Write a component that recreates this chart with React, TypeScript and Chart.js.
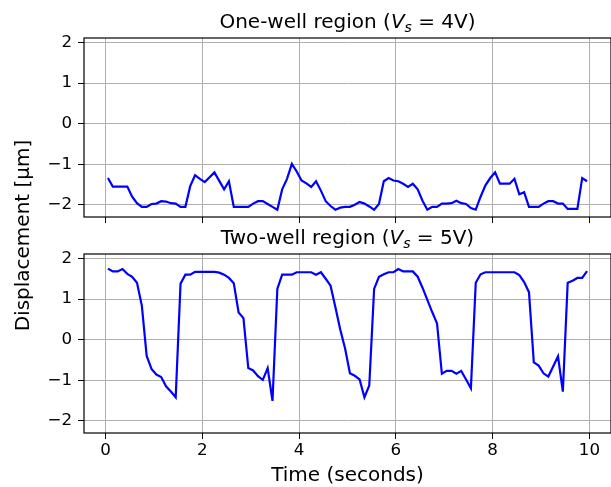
import React, { useEffect, useRef } from 'react';
import { Chart, registerables } from 'chart.js';

Chart.register(...registerables);

// ---- data ----
const TIME = [
  0.05, 0.15, 0.25, 0.35, 0.45, 0.55, 0.65, 0.75, 0.85, 0.95,
  1.05, 1.15, 1.25, 1.35, 1.45, 1.55, 1.65, 1.75, 1.85, 1.95,
  2.05, 2.15, 2.25, 2.35, 2.45, 2.55, 2.65, 2.75, 2.85, 2.95,
  3.05, 3.15, 3.25, 3.35, 3.45, 3.55, 3.65, 3.75, 3.85, 3.95,
  4.05, 4.15, 4.25, 4.35, 4.45, 4.55, 4.65, 4.75, 4.85, 4.95,
  5.05, 5.15, 5.25, 5.35, 5.45, 5.55, 5.65, 5.75, 5.85, 5.95,
  6.05, 6.15, 6.25, 6.35, 6.45, 6.55, 6.65, 6.75, 6.85, 6.95,
  7.05, 7.15, 7.25, 7.35, 7.45, 7.55, 7.65, 7.75, 7.85, 7.95,
  8.05, 8.15, 8.25, 8.35, 8.45, 8.55, 8.65, 8.75, 8.85, 8.95,
  9.05, 9.15, 9.25, 9.35, 9.45, 9.55, 9.65, 9.75, 9.85, 9.95,
];

const ONE_WELL = [
  -1.34, -1.55, -1.55, -1.55, -1.55, -1.8, -1.96, -2.05, -2.05, -1.98,
  -1.97, -1.91, -1.92, -1.96, -1.97, -2.05, -2.05, -1.54, -1.27, -1.36,
  -1.44, -1.32, -1.2, -1.41, -1.62, -1.42, -2.05, -2.05, -2.05, -2.05,
  -1.97, -1.91, -1.91, -1.98, -2.05, -2.12, -1.62, -1.36, -0.99, -1.18,
  -1.4, -1.47, -1.56, -1.42, -1.65, -1.91, -2.03, -2.12, -2.07, -2.05,
  -2.05, -2.0, -1.93, -1.97, -2.04, -2.12, -1.98, -1.42, -1.34, -1.4,
  -1.42, -1.48, -1.56, -1.48, -1.62, -1.9, -2.12, -2.05, -2.05, -1.97,
  -1.97, -1.96, -1.9, -1.96, -1.98, -2.08, -2.12, -1.8, -1.52, -1.34,
  -1.2, -1.48, -1.48, -1.48, -1.36, -1.74, -1.69, -2.05, -2.05, -2.05,
  -1.97, -1.91, -1.91, -1.97, -1.97, -2.1, -2.1, -2.1, -1.34, -1.42,
];

const TWO_WELL = [
  1.75, 1.68, 1.68, 1.74, 1.62, 1.55, 1.4, 0.84, -0.4, -0.72,
  -0.86, -0.92, -1.15, -1.28, -1.42, 1.38, 1.6, 1.6, 1.67, 1.67,
  1.67, 1.67, 1.67, 1.65, 1.6, 1.52, 1.39, 0.67, 0.53, -0.7,
  -0.76, -0.9, -0.99, -0.7, -1.51, 1.25, 1.6, 1.6, 1.6, 1.66,
  1.66, 1.66, 1.66, 1.6, 1.66, 1.5, 1.33, 0.8, 0.25, -0.22,
  -0.83, -0.89, -0.98, -1.42, -1.13, 1.25, 1.55, 1.61, 1.66, 1.66,
  1.74, 1.68, 1.68, 1.68, 1.55, 1.28, 0.98, 0.68, 0.4, -0.84,
  -0.77, -0.77, -0.84, -0.77, -0.98, -1.2, 1.4, 1.61, 1.66, 1.66,
  1.66, 1.66, 1.66, 1.66, 1.66, 1.59, 1.42, 1.17, -0.56, -0.64,
  -0.83, -0.91, -0.66, -0.41, -1.28, 1.4, 1.45, 1.52, 1.52, 1.69,
];

const X_TICKS = [0, 2, 4, 6, 8, 10];
const Y_TICKS = [-2, -1, 0, 1, 2];
const X_MIN = -0.445;
const X_MAX = 10.445;
const Y_MIN = -2.3;
const Y_MAX = 2.11;

const TOP_TITLE = ['One-well region (', 'V', 's', ' = 4V)'];
const BOTTOM_TITLE = ['Two-well region (', 'V', 's', ' = 5V)'];
const X_LABEL = 'Time (seconds)';
const Y_LABEL = 'Displacement [\u03bcm]';

// ---- layout / style ----
const W = 611;
const H = 487;
const AXIS_LEFT = 84;
const FAMILY = "'DejaVu Sans', sans-serif";
const TICK_SIZE = 16.7;
const LABEL_SIZE = 20;

const fmt = (v: number) => (v < 0 ? '\u2212' + Math.abs(v) : String(v));

function framePlugin(title: string[], withAxisLabels: boolean) {
  return {
    id: 'frameAndText',
    afterDraw(chart: any) {
      const { ctx, chartArea: a } = chart;
      ctx.save();
      ctx.strokeStyle = '#000';
      ctx.lineWidth = 1.2;
      ctx.strokeRect(a.left, a.top, a.right - a.left, a.bottom - a.top);

      ctx.fillStyle = '#000';
      ctx.textAlign = 'left';
      ctx.textBaseline = 'alphabetic';
      const big = `${LABEL_SIZE}px ${FAMILY}`;
      const ital = `italic ${LABEL_SIZE}px ${FAMILY}`;
      const sub = `italic ${LABEL_SIZE * 0.7}px ${FAMILY}`;
      const parts: [string, string, number][] = [
        [title[0], big, 0],
        [title[1], ital, 0],
        [title[2], sub, 4],
        [title[3], big, 0],
      ];
      let total = 0;
      const widths = parts.map(([t, f]) => {
        ctx.font = f;
        const w = ctx.measureText(t).width;
        total += w;
        return w;
      });
      let x = (a.left + a.right) / 2 - total / 2;
      const baseY = a.top - 10;
      parts.forEach(([t, f, dy], i) => {
        ctx.font = f;
        ctx.fillText(t, x, baseY + dy);
        x += widths[i];
      });

      if (withAxisLabels) {
        ctx.font = big;
        ctx.textAlign = 'center';
        ctx.fillText(X_LABEL, (a.left + a.right) / 2, 481);
        ctx.save();
        ctx.translate(29, (38 + a.bottom) / 2);
        ctx.rotate(-Math.PI / 2);
        ctx.fillText(Y_LABEL, 0, 0);
        ctx.restore();
      }
      ctx.restore();
    },
  };
}

function makeConfig(values: number[], title: string[], bottom: boolean) {
  const areaTop = bottom ? 254 : 38;
  const areaBottom = bottom ? 433 : 217;
  const xAxisH = bottom ? H - areaBottom : 6;
  const tickFont = { family: FAMILY, size: TICK_SIZE };
  return {
    type: 'line',
    data: {
      datasets: [
        {
          data: values.map((v, i) => ({ x: TIME[i], y: v })),
          borderColor: '#0000ff',
          borderWidth: 2.2,
          pointRadius: 0,
          tension: 0,
          fill: false,
        },
      ],
    },
    options: {
      animation: false,
      responsive: false,
      events: [],
      layout: {
        padding: { top: areaTop, left: 0, right: 0, bottom: H - areaBottom - xAxisH },
      },
      plugins: {
        legend: { display: false },
        title: { display: false },
        tooltip: { enabled: false },
      },
      scales: {
        x: {
          type: 'linear',
          min: X_MIN,
          max: X_MAX,
          afterBuildTicks: (s: any) => {
            s.ticks = X_TICKS.map((v) => ({ value: v }));
          },
          afterFit: (s: any) => {
            s.height = xAxisH;
          },
          grid: {
            color: '#b0b0b0',
            lineWidth: 1,
            tickColor: '#000',
            tickLength: 6,
            tickWidth: 1,
            drawTicks: true,
          },
          border: { display: false },
          ticks: {
            display: bottom,
            font: tickFont,
            color: '#000',
            padding: 2,
            maxRotation: 0,
            autoSkip: false,
            callback: (v: number) => fmt(v),
          },
        },
        y: {
          type: 'linear',
          min: Y_MIN,
          max: Y_MAX,
          afterBuildTicks: (s: any) => {
            s.ticks = Y_TICKS.map((v) => ({ value: v }));
          },
          afterFit: (s: any) => {
            s.width = AXIS_LEFT;
          },
          grid: {
            color: '#b0b0b0',
            lineWidth: 1,
            tickColor: '#000',
            tickLength: 6,
            tickWidth: 1,
            drawTicks: true,
          },
          border: { display: false },
          ticks: {
            font: tickFont,
            color: '#000',
            padding: 6,
            autoSkip: false,
            callback: (v: number) => fmt(v),
          },
        },
      },
    },
    plugins: [framePlugin(title, bottom)],
  };
}

export default function App() {
  const topRef = useRef<HTMLCanvasElement>(null);
  const botRef = useRef<HTMLCanvasElement>(null);

  useEffect(() => {
    const c1 = new Chart(topRef.current as HTMLCanvasElement, makeConfig(ONE_WELL, TOP_TITLE, false) as any);
    const c2 = new Chart(botRef.current as HTMLCanvasElement, makeConfig(TWO_WELL, BOTTOM_TITLE, true) as any);
    return () => {
      c1.destroy();
      c2.destroy();
    };
  }, []);

  return (
    <div style={{ position: 'fixed', left: 0, top: 0, width: W, height: H, background: '#fff', overflow: 'hidden' }}>
      <canvas ref={topRef} width={W} height={H} style={{ position: 'absolute', left: 0, top: 0 }} />
      <canvas ref={botRef} width={W} height={H} style={{ position: 'absolute', left: 0, top: 0 }} />
    </div>
  );
}
